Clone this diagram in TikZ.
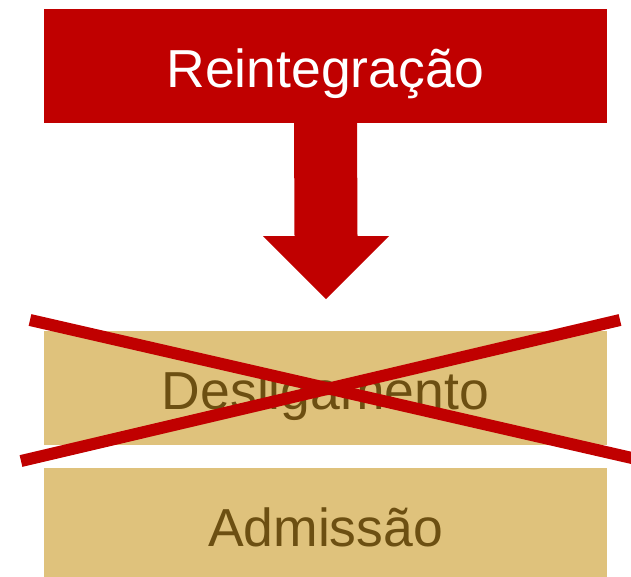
\documentclass[tikz,border=0pt]{standalone}
\usepackage{fontspec}
\setmainfont{Liberation Sans}
\definecolor{reintred}{RGB}{192,0,0}
\definecolor{boxtan}{RGB}{223,194,124}
\definecolor{textbrown}{RGB}{108,79,18}
\begin{document}
\begin{tikzpicture}[x=1pt,y=-1pt,line join=miter,
  redbox/.style={fill=reintred,draw=none,inner sep=0pt,minimum width=563pt,minimum height=114pt,text=white,font=\fontsize{53.5}{60}\selectfont,text height=43pt,text depth=0pt},
  tanbox/.style={redbox,fill=boxtan,text=textbrown},
  crossline/.style={reintred,line width=12pt,line cap=butt}]
\useasboundingbox (0,0) rectangle (631,576);
%%
\node (node_reint) at (325.5,65.5) [redbox] {Reintegração};
  \node (node_desl) at (325.5,388) [tanbox] {Desligamento};
  \node (node_adm) at (325.5,525) [tanbox] {Admissão};
  \coordinate (tip) at (326,299);
  \fill [reintred] ([xshift=-31.5pt]node_reint.south) -- (294.5,236) -- (263,236) -- (tip) -- (389,236) -- (357.5,236) -- ([xshift=31.5pt]node_reint.south) -- cycle;
%
  \coordinate (cross_1a) at (30,320);
  \coordinate (cross_1b) at (645,461);
  \coordinate (cross_2a) at (21,461);
  \coordinate (cross_2b) at (620,320);
  \draw [crossline] (cross_1a) -- (cross_1b);
  \draw [crossline] (cross_2a) -- (cross_2b);
%
\end{tikzpicture}
\end{document}
